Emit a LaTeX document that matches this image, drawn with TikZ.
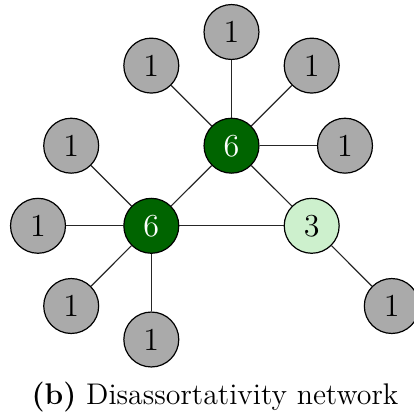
\documentclass[tikz,border=0pt]{standalone}
\definecolor{hubgreen}{RGB}{0,100,0}
\definecolor{leafgray}{RGB}{170,170,170}
\definecolor{lightgreen}{RGB}{205,240,205}
\begin{document}
\begin{tikzpicture}[x=0.375pt,y=-0.375pt,
  vtx/.style={circle,draw=black,line width=0.45pt,minimum size=20.6pt,inner sep=0pt,font=\large},
  leaf/.style={vtx,fill=leafgray},
  hub/.style={vtx,fill=hubgreen,text=white},
  mid/.style={vtx,fill=lightgreen},
  edge/.style={line width=0.45pt,draw=black!85}]
\useasboundingbox (0,0) rectangle (414,419);
\node[hub] (h1) at (231.5,145.7) {6};
\node[hub] (h2) at (151.3,225.8) {6};
\node[mid] (m) at (311.7,225.8) {3};
\node[leaf] (t) at (231.5,32) {1};
\node[leaf] (ul) at (151.3,65.6) {1};
\node[leaf] (ur) at (311.7,65.6) {1};
\node[leaf] (r) at (345,145.7) {1};
\node[leaf] (l) at (71.2,145.7) {1};
\node[leaf] (fl) at (38,225.8) {1};
\node[leaf] (ll) at (71.2,306) {1};
\node[leaf] (b) at (151.3,339.5) {1};
\node[leaf] (lr) at (391.8,306) {1};
\draw[edge] (h1) -- (t);
\draw[edge] (h1) -- (ul);
\draw[edge] (h1) -- (ur);
\draw[edge] (h1) -- (r);
\draw[edge] (h1) -- (h2);
\draw[edge] (h1) -- (m);
\draw[edge] (h2) -- (m);
\draw[edge] (h2) -- (l);
\draw[edge] (h2) -- (fl);
\draw[edge] (h2) -- (ll);
\draw[edge] (h2) -- (b);
\draw[edge] (m) -- (lr);
\node[inner sep=0pt,font=\fontsize{11.2}{13.5}\selectfont] (cap) at (215,397) {\textbf{(b)} Disassortativity network};
\end{tikzpicture}
\end{document}
